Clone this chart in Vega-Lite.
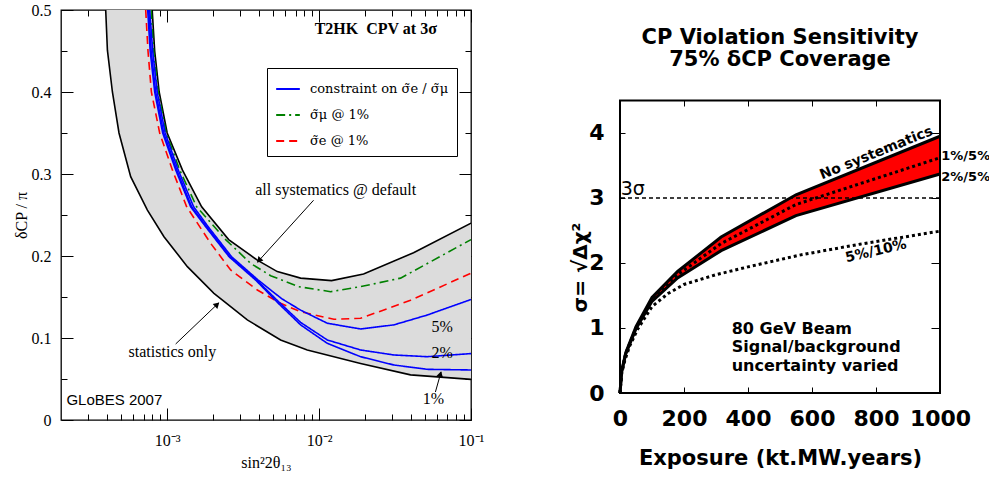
{
  "$schema": "https://vega.github.io/schema/vega-lite/v6.json",
  "background": "white",
  "padding": {"left": 12, "top": 1, "right": 0, "bottom": 0},
  "config": {
    "view": {"stroke": "black", "strokeWidth": 1.3},
    "axis": {"grid": false, "domain": false, "tickColor": "black", "labelColor": "black", "titleColor": "black", "tickWidth": 1}
  },
  "datasets": {
    "leftBand": [
      {"x": 0.0003938, "lo": 0.5, "hi": 0.5},
      {"x": 0.0004041, "lo": 0.451, "hi": 0.5},
      {"x": 0.000436, "lo": 0.4, "hi": 0.5},
      {"x": 0.0004818, "lo": 0.35, "hi": 0.5},
      {"x": 0.0005751, "lo": 0.2967, "hi": 0.5},
      {"x": 0.0007409, "lo": 0.256, "hi": 0.5},
      {"x": 0.0007968, "lo": 0.2466, "hi": 0.5},
      {"x": 0.0008274, "lo": 0.2417, "hi": 0.45},
      {"x": 0.0008858, "lo": 0.2329, "hi": 0.4},
      {"x": 0.001, "lo": 0.2185, "hi": 0.35},
      {"x": 0.0012589, "lo": 0.1948, "hi": 0.305},
      {"x": 0.0016867, "lo": 0.1695, "hi": 0.26},
      {"x": 0.0025393, "lo": 0.1402, "hi": 0.22},
      {"x": 0.0039219, "lo": 0.1147, "hi": 0.195},
      {"x": 0.0053088, "lo": 0.1, "hi": 0.181},
      {"x": 0.0075577, "lo": 0.0885, "hi": 0.173},
      {"x": 0.012086, "lo": 0.0779, "hi": 0.17},
      {"x": 0.019625, "lo": 0.0682, "hi": 0.178},
      {"x": 0.041853, "lo": 0.0547, "hi": 0.204},
      {"x": 0.1, "lo": 0.0496, "hi": 0.24}
    ],
    "leftBlack": [
      {"c": "stat", "x": 0.0003938, "y": 0.5},
      {"c": "stat", "x": 0.0004041, "y": 0.451},
      {"c": "stat", "x": 0.000436, "y": 0.4},
      {"c": "stat", "x": 0.0004818, "y": 0.35},
      {"c": "stat", "x": 0.0005751, "y": 0.2967},
      {"c": "stat", "x": 0.0007409, "y": 0.256},
      {"c": "stat", "x": 0.0009527, "y": 0.2235},
      {"c": "stat", "x": 0.0013579, "y": 0.187},
      {"c": "stat", "x": 0.0020324, "y": 0.1545},
      {"c": "stat", "x": 0.0033703, "y": 0.122},
      {"c": "stat", "x": 0.005581, "y": 0.0976},
      {"c": "stat", "x": 0.0083625, "y": 0.0854},
      {"c": "stat", "x": 0.018752, "y": 0.069},
      {"c": "stat", "x": 0.039994, "y": 0.055},
      {"c": "stat", "x": 0.1, "y": 0.0496},
      {"c": "sys", "x": 0.0007968, "y": 0.5},
      {"c": "sys", "x": 0.0008274, "y": 0.45},
      {"c": "sys", "x": 0.0008858, "y": 0.4},
      {"c": "sys", "x": 0.001, "y": 0.35},
      {"c": "sys", "x": 0.0012589, "y": 0.305},
      {"c": "sys", "x": 0.0016867, "y": 0.26},
      {"c": "sys", "x": 0.0025393, "y": 0.22},
      {"c": "sys", "x": 0.0039219, "y": 0.195},
      {"c": "sys", "x": 0.0053088, "y": 0.181},
      {"c": "sys", "x": 0.0075577, "y": 0.173},
      {"c": "sys", "x": 0.012086, "y": 0.17},
      {"c": "sys", "x": 0.019625, "y": 0.178},
      {"c": "sys", "x": 0.041853, "y": 0.204},
      {"c": "sys", "x": 0.1, "y": 0.24}
    ],
    "leftCurves": [
      {"s": "\u03c3\u0303\u03bc @ 1%", "c": "g", "x": 0.0007847, "y": 0.5},
      {"s": "\u03c3\u0303\u03bc @ 1%", "c": "g", "x": 0.0008152, "y": 0.45},
      {"s": "\u03c3\u0303\u03bc @ 1%", "c": "g", "x": 0.0008725, "y": 0.4},
      {"s": "\u03c3\u0303\u03bc @ 1%", "c": "g", "x": 0.000985, "y": 0.35},
      {"s": "\u03c3\u0303\u03bc @ 1%", "c": "g", "x": 0.0012086, "y": 0.305},
      {"s": "\u03c3\u0303\u03bc @ 1%", "c": "g", "x": 0.0015633, "y": 0.26},
      {"s": "\u03c3\u0303\u03bc @ 1%", "c": "g", "x": 0.0024265, "y": 0.22},
      {"s": "\u03c3\u0303\u03bc @ 1%", "c": "g", "x": 0.003543, "y": 0.191},
      {"s": "\u03c3\u0303\u03bc @ 1%", "c": "g", "x": 0.004797, "y": 0.176},
      {"s": "\u03c3\u0303\u03bc @ 1%", "c": "g", "x": 0.0073322, "y": 0.1626},
      {"s": "\u03c3\u0303\u03bc @ 1%", "c": "g", "x": 0.011904, "y": 0.1565},
      {"s": "\u03c3\u0303\u03bc @ 1%", "c": "g", "x": 0.018752, "y": 0.1626},
      {"s": "\u03c3\u0303\u03bc @ 1%", "c": "g", "x": 0.034375, "y": 0.173},
      {"s": "\u03c3\u0303\u03bc @ 1%", "c": "g", "x": 0.1, "y": 0.22},
      {"s": "\u03c3\u0303e @ 1%", "c": "r", "x": 0.0007222, "y": 0.5},
      {"s": "\u03c3\u0303e @ 1%", "c": "r", "x": 0.0007477, "y": 0.45},
      {"s": "\u03c3\u0303e @ 1%", "c": "r", "x": 0.0007871, "y": 0.4},
      {"s": "\u03c3\u0303e @ 1%", "c": "r", "x": 0.0008926, "y": 0.35},
      {"s": "\u03c3\u0303e @ 1%", "c": "r", "x": 0.0010819, "y": 0.305},
      {"s": "\u03c3\u0303e @ 1%", "c": "r", "x": 0.0013436, "y": 0.26},
      {"s": "\u03c3\u0303e @ 1%", "c": "r", "x": 0.0019324, "y": 0.2155},
      {"s": "\u03c3\u0303e @ 1%", "c": "r", "x": 0.0026174, "y": 0.183},
      {"s": "\u03c3\u0303e @ 1%", "c": "r", "x": 0.0039219, "y": 0.1585},
      {"s": "\u03c3\u0303e @ 1%", "c": "r", "x": 0.005581, "y": 0.1423},
      {"s": "\u03c3\u0303e @ 1%", "c": "r", "x": 0.0075577, "y": 0.132},
      {"s": "\u03c3\u0303e @ 1%", "c": "r", "x": 0.012515, "y": 0.1228},
      {"s": "\u03c3\u0303e @ 1%", "c": "r", "x": 0.018752, "y": 0.124},
      {"s": "\u03c3\u0303e @ 1%", "c": "r", "x": 0.039994, "y": 0.146},
      {"s": "\u03c3\u0303e @ 1%", "c": "r", "x": 0.1, "y": 0.179},
      {"s": "constraint on \u03c3\u0303e / \u03c3\u0303\u03bc", "c": "b1", "x": 0.0007443, "y": 0.5},
      {"s": "constraint on \u03c3\u0303e / \u03c3\u0303\u03bc", "c": "b1", "x": 0.0007729, "y": 0.45},
      {"s": "constraint on \u03c3\u0303e / \u03c3\u0303\u03bc", "c": "b1", "x": 0.0008274, "y": 0.4},
      {"s": "constraint on \u03c3\u0303e / \u03c3\u0303\u03bc", "c": "b1", "x": 0.0009341, "y": 0.35},
      {"s": "constraint on \u03c3\u0303e / \u03c3\u0303\u03bc", "c": "b1", "x": 0.0011374, "y": 0.305},
      {"s": "constraint on \u03c3\u0303e / \u03c3\u0303\u03bc", "c": "b1", "x": 0.0014274, "y": 0.26},
      {"s": "constraint on \u03c3\u0303e / \u03c3\u0303\u03bc", "c": "b1", "x": 0.001792, "y": 0.2357},
      {"s": "constraint on \u03c3\u0303e / \u03c3\u0303\u03bc", "c": "b1", "x": 0.0025586, "y": 0.199},
      {"s": "constraint on \u03c3\u0303e / \u03c3\u0303\u03bc", "c": "b1", "x": 0.0038222, "y": 0.1707},
      {"s": "constraint on \u03c3\u0303e / \u03c3\u0303\u03bc", "c": "b1", "x": 0.0054144, "y": 0.142},
      {"s": "constraint on \u03c3\u0303e / \u03c3\u0303\u03bc", "c": "b1", "x": 0.0075577, "y": 0.116},
      {"s": "constraint on \u03c3\u0303e / \u03c3\u0303\u03bc", "c": "b1", "x": 0.011324, "y": 0.0935},
      {"s": "constraint on \u03c3\u0303e / \u03c3\u0303\u03bc", "c": "b1", "x": 0.018752, "y": 0.0772},
      {"s": "constraint on \u03c3\u0303e / \u03c3\u0303\u03bc", "c": "b1", "x": 0.031055, "y": 0.0671},
      {"s": "constraint on \u03c3\u0303e / \u03c3\u0303\u03bc", "c": "b1", "x": 0.051502, "y": 0.0618},
      {"s": "constraint on \u03c3\u0303e / \u03c3\u0303\u03bc", "c": "b1", "x": 0.1, "y": 0.061},
      {"s": "constraint on \u03c3\u0303e / \u03c3\u0303\u03bc", "c": "b2", "x": 0.0007557, "y": 0.5},
      {"s": "constraint on \u03c3\u0303e / \u03c3\u0303\u03bc", "c": "b2", "x": 0.0007847, "y": 0.45},
      {"s": "constraint on \u03c3\u0303e / \u03c3\u0303\u03bc", "c": "b2", "x": 0.0008401, "y": 0.4},
      {"s": "constraint on \u03c3\u0303e / \u03c3\u0303\u03bc", "c": "b2", "x": 0.0009484, "y": 0.35},
      {"s": "constraint on \u03c3\u0303e / \u03c3\u0303\u03bc", "c": "b2", "x": 0.0011548, "y": 0.305},
      {"s": "constraint on \u03c3\u0303e / \u03c3\u0303\u03bc", "c": "b2", "x": 0.0014492, "y": 0.26},
      {"s": "constraint on \u03c3\u0303e / \u03c3\u0303\u03bc", "c": "b2", "x": 0.0018194, "y": 0.2357},
      {"s": "constraint on \u03c3\u0303e / \u03c3\u0303\u03bc", "c": "b2", "x": 0.0025977, "y": 0.199},
      {"s": "constraint on \u03c3\u0303e / \u03c3\u0303\u03bc", "c": "b2", "x": 0.0038806, "y": 0.1707},
      {"s": "constraint on \u03c3\u0303e / \u03c3\u0303\u03bc", "c": "b2", "x": 0.0054971, "y": 0.143},
      {"s": "constraint on \u03c3\u0303e / \u03c3\u0303\u03bc", "c": "b2", "x": 0.0075577, "y": 0.119},
      {"s": "constraint on \u03c3\u0303e / \u03c3\u0303\u03bc", "c": "b2", "x": 0.011324, "y": 0.0976},
      {"s": "constraint on \u03c3\u0303e / \u03c3\u0303\u03bc", "c": "b2", "x": 0.018752, "y": 0.0854},
      {"s": "constraint on \u03c3\u0303e / \u03c3\u0303\u03bc", "c": "b2", "x": 0.031055, "y": 0.0793},
      {"s": "constraint on \u03c3\u0303e / \u03c3\u0303\u03bc", "c": "b2", "x": 0.051502, "y": 0.0772},
      {"s": "constraint on \u03c3\u0303e / \u03c3\u0303\u03bc", "c": "b2", "x": 0.1, "y": 0.081},
      {"s": "constraint on \u03c3\u0303e / \u03c3\u0303\u03bc", "c": "b5", "x": 0.0007671, "y": 0.5},
      {"s": "constraint on \u03c3\u0303e / \u03c3\u0303\u03bc", "c": "b5", "x": 0.0008029, "y": 0.45},
      {"s": "constraint on \u03c3\u0303e / \u03c3\u0303\u03bc", "c": "b5", "x": 0.0008594, "y": 0.4},
      {"s": "constraint on \u03c3\u0303e / \u03c3\u0303\u03bc", "c": "b5", "x": 0.0009701, "y": 0.35},
      {"s": "constraint on \u03c3\u0303e / \u03c3\u0303\u03bc", "c": "b5", "x": 0.0011814, "y": 0.305},
      {"s": "constraint on \u03c3\u0303e / \u03c3\u0303\u03bc", "c": "b5", "x": 0.0014939, "y": 0.26},
      {"s": "constraint on \u03c3\u0303e / \u03c3\u0303\u03bc", "c": "b5", "x": 0.0018612, "y": 0.2357},
      {"s": "constraint on \u03c3\u0303e / \u03c3\u0303\u03bc", "c": "b5", "x": 0.0026575, "y": 0.199},
      {"s": "constraint on \u03c3\u0303e / \u03c3\u0303\u03bc", "c": "b5", "x": 0.0039697, "y": 0.1707},
      {"s": "constraint on \u03c3\u0303e / \u03c3\u0303\u03bc", "c": "b5", "x": 0.0056662, "y": 0.148},
      {"s": "constraint on \u03c3\u0303e / \u03c3\u0303\u03bc", "c": "b5", "x": 0.0075577, "y": 0.134},
      {"s": "constraint on \u03c3\u0303e / \u03c3\u0303\u03bc", "c": "b5", "x": 0.011324, "y": 0.118},
      {"s": "constraint on \u03c3\u0303e / \u03c3\u0303\u03bc", "c": "b5", "x": 0.018752, "y": 0.111},
      {"s": "constraint on \u03c3\u0303e / \u03c3\u0303\u03bc", "c": "b5", "x": 0.031055, "y": 0.116},
      {"s": "constraint on \u03c3\u0303e / \u03c3\u0303\u03bc", "c": "b5", "x": 0.051502, "y": 0.128},
      {"s": "constraint on \u03c3\u0303e / \u03c3\u0303\u03bc", "c": "b5", "x": 0.1, "y": 0.147}
    ],
    "leftTexts": [
      {"t": "all systematics @ default", "x": 0.01285, "y": 0.2805},
      {"t": "statistics only", "x": 0.001082, "y": 0.0829},
      {"t": "5%", "x": 0.0647, "y": 0.1134},
      {"t": "2%", "x": 0.0647, "y": 0.0817},
      {"t": "1%", "x": 0.0566, "y": 0.0256}
    ],
    "leftArrows": [
      {"x": 0.0092, "y": 0.268, "x2": 0.00394, "y2": 0.1927},
      {"x": 0.001137, "y": 0.0927, "x2": 0.00218, "y2": 0.1427},
      {"x": 0.0583, "y": 0.0341, "x2": 0.0635, "y2": 0.0585}
    ],
    "leftHeads": [
      {"x": 0.00406, "y": 0.1954, "a": 222},
      {"x": 0.00211, "y": 0.1401, "a": 46},
      {"x": 0.0627, "y": 0.055, "a": 15}
    ],
    "rightBand": [
      {"x": 0, "lo": 0, "hi": 0},
      {"x": 5, "lo": 0.32, "hi": 0.33},
      {"x": 18, "lo": 0.6, "hi": 0.62},
      {"x": 50, "lo": 0.99, "hi": 1.02},
      {"x": 100, "lo": 1.41, "hi": 1.47},
      {"x": 180, "lo": 1.77, "hi": 1.87},
      {"x": 316, "lo": 2.19, "hi": 2.4},
      {"x": 550, "lo": 2.73, "hi": 3.05},
      {"x": 1000, "lo": 3.37, "hi": 3.95}
    ],
    "rightLines": [
      {"c": "nosys", "x": 0, "y": 0}, {"c": "nosys", "x": 5, "y": 0.33}, {"c": "nosys", "x": 18, "y": 0.62}, {"c": "nosys", "x": 50, "y": 1.02}, {"c": "nosys", "x": 100, "y": 1.47}, {"c": "nosys", "x": 180, "y": 1.87}, {"c": "nosys", "x": 316, "y": 2.4}, {"c": "nosys", "x": 550, "y": 3.05}, {"c": "nosys", "x": 1000, "y": 3.95},
      {"c": "low", "x": 0, "y": 0}, {"c": "low", "x": 5, "y": 0.32}, {"c": "low", "x": 18, "y": 0.6}, {"c": "low", "x": 50, "y": 0.99}, {"c": "low", "x": 100, "y": 1.41}, {"c": "low", "x": 180, "y": 1.77}, {"c": "low", "x": 316, "y": 2.19}, {"c": "low", "x": 550, "y": 2.73}, {"c": "low", "x": 1000, "y": 3.37},
      {"c": "mid", "x": 0, "y": 0}, {"c": "mid", "x": 5, "y": 0.325}, {"c": "mid", "x": 18, "y": 0.61}, {"c": "mid", "x": 50, "y": 1.0}, {"c": "mid", "x": 100, "y": 1.44}, {"c": "mid", "x": 180, "y": 1.82}, {"c": "mid", "x": 316, "y": 2.3}, {"c": "mid", "x": 550, "y": 2.9}, {"c": "mid", "x": 1000, "y": 3.62},
      {"c": "p510", "x": 0, "y": 0}, {"c": "p510", "x": 5, "y": 0.29}, {"c": "p510", "x": 15, "y": 0.5}, {"c": "p510", "x": 30, "y": 0.72}, {"c": "p510", "x": 55, "y": 0.98}, {"c": "p510", "x": 100, "y": 1.33}, {"c": "p510", "x": 150, "y": 1.53}, {"c": "p510", "x": 200, "y": 1.67}, {"c": "p510", "x": 300, "y": 1.82}, {"c": "p510", "x": 400, "y": 1.94}, {"c": "p510", "x": 560, "y": 2.12}, {"c": "p510", "x": 750, "y": 2.29}, {"c": "p510", "x": 1000, "y": 2.49}
    ]
  },
  "resolve": {"scale": {"color": "independent", "strokeDash": "independent"}},
  "spacing": 85,
  "hconcat": [
    {
      "width": 410,
      "height": 410,
      "view": {"stroke": "black", "strokeWidth": 1.3},
      "resolve": {"axis": {"x": "independent", "y": "independent"}},
      "layer": [
        {
          "data": {"name": "leftBand"},
          "mark": {"type": "area", "color": "#dcdcdc", "clip": true},
          "encoding": {
            "x": {"field": "x", "type": "quantitative", "scale": {"type": "log", "domain": [0.0002, 0.1], "nice": false},
              "axis": {"orient": "bottom", "values": [0.0003, 0.0004, 0.0005, 0.0006, 0.0007, 0.0008, 0.0009, 0.001, 0.002, 0.003, 0.004, 0.005, 0.006, 0.007, 0.008, 0.009, 0.01, 0.02, 0.03, 0.04, 0.05, 0.06, 0.07, 0.08, 0.09, 0.1],
                "labelExpr": "datum.value == 0.001 ? '10\u207b\u00b3' : datum.value == 0.01 ? '10\u207b\u00b2' : datum.value == 0.1 ? '10\u207b\u00b9' : ''",
                "tickSize": {"condition": {"test": "datum.value == 0.001 || datum.value == 0.01 || datum.value == 0.1", "value": -12}, "value": -6},
                "labelFont": "Liberation Serif", "labelFontSize": 16, "labelPadding": 24, "labelOverlap": false, "labelBound": false, "labelFlush": false,
                "title": "sin\u00b22\u03b8\u2081\u2083", "titleFont": "Liberation Serif", "titleFontSize": 16, "titleFontWeight": "normal", "titleX": 205, "titleY": 42, "titleBaseline": "middle", "titleAlign": "center"}},
            "y": {"field": "hi", "type": "quantitative", "scale": {"domain": [0, 0.5], "nice": false},
              "axis": {"orient": "left", "values": [0, 0.05, 0.1, 0.15, 0.2, 0.25, 0.3, 0.35, 0.4, 0.45, 0.5],
                "labelExpr": "datum.value == 0 ? '0' : (abs(datum.value*10 - round(datum.value*10)) < 0.001 ? format(datum.value, '.1f') : '')",
                "tickSize": {"condition": {"test": "abs(datum.value*10 - round(datum.value*10)) < 0.001", "value": -12}, "value": -6},
                "labelFont": "Liberation Serif", "labelFontSize": 16, "labelPadding": 22, "labelOverlap": false, "labelBound": false,
                "title": "\u03b4CP / \u03c0", "titleFont": "Liberation Serif", "titleFontSize": 16, "titleFontWeight": "normal", "titleX": -40, "titleY": 205, "titleAngle": -90, "titleBaseline": "middle", "titleAlign": "center"}},
            "y2": {"field": "lo"}
          }
        },
        {
          "data": {"name": "leftBlack"},
          "mark": {"type": "line", "color": "black", "strokeWidth": 1.6, "clip": true},
          "encoding": {
            "x": {"field": "x", "type": "quantitative",
              "axis": {"orient": "top", "values": [0.0003, 0.0004, 0.0005, 0.0006, 0.0007, 0.0008, 0.0009, 0.001, 0.002, 0.003, 0.004, 0.005, 0.006, 0.007, 0.008, 0.009, 0.01, 0.02, 0.03, 0.04, 0.05, 0.06, 0.07, 0.08, 0.09, 0.1],
                "labels": false, "title": null,
                "tickSize": {"condition": {"test": "datum.value == 0.001 || datum.value == 0.01 || datum.value == 0.1", "value": -12}, "value": -6}}},
            "y": {"field": "y", "type": "quantitative",
              "axis": {"orient": "right", "values": [0, 0.05, 0.1, 0.15, 0.2, 0.25, 0.3, 0.35, 0.4, 0.45, 0.5],
                "labels": false, "title": null,
                "tickSize": {"condition": {"test": "abs(datum.value*10 - round(datum.value*10)) < 0.001", "value": -12}, "value": -6}}},
            "detail": {"field": "c", "type": "nominal"}
          }
        },
        {
          "data": {"name": "leftCurves"},
          "mark": {"type": "line", "strokeWidth": 1.6, "clip": true},
          "encoding": {
            "x": {"field": "x", "type": "quantitative", "axis": null},
            "y": {"field": "y", "type": "quantitative", "axis": null},
            "detail": {"field": "c", "type": "nominal"},
            "color": {"field": "s", "type": "nominal",
              "scale": {"domain": ["constraint on \u03c3\u0303e / \u03c3\u0303\u03bc", "\u03c3\u0303\u03bc @ 1%", "\u03c3\u0303e @ 1%"], "range": ["#0000ff", "#008000", "#ff0000"]},
              "legend": {"orient": "none", "legendX": 206, "legendY": 58, "title": null, "symbolType": "stroke", "symbolSize": 560, "symbolStrokeWidth": 2, "labelFont": "DejaVu Serif", "labelFontSize": 13, "labelColor": "black", "labelLimit": 0, "padding": 8, "rowPadding": 6, "labelOffset": 9, "strokeColor": "black", "fillColor": "white"}},
            "strokeDash": {"field": "s", "type": "nominal",
              "scale": {"domain": ["constraint on \u03c3\u0303e / \u03c3\u0303\u03bc", "\u03c3\u0303\u03bc @ 1%", "\u03c3\u0303e @ 1%"], "range": [[1, 0], [9, 4, 2, 4], [8, 5]]},
              "legend": {"orient": "none", "legendX": 206, "legendY": 58, "title": null, "symbolType": "stroke", "symbolSize": 560, "symbolStrokeWidth": 2, "labelFont": "DejaVu Serif", "labelFontSize": 13, "labelColor": "black", "labelLimit": 0, "padding": 8, "rowPadding": 6, "labelOffset": 9, "strokeColor": "black", "fillColor": "white"}}
          }
        },
        {
          "data": {"name": "leftArrows"},
          "mark": {"type": "rule", "color": "black", "strokeWidth": 1},
          "encoding": {
            "x": {"field": "x", "type": "quantitative", "axis": null},
            "y": {"field": "y", "type": "quantitative", "axis": null},
            "x2": {"field": "x2"},
            "y2": {"field": "y2"}
          }
        },
        {
          "data": {"name": "leftHeads"},
          "mark": {"type": "point", "shape": "triangle", "filled": true, "color": "black", "size": 45, "opacity": 1},
          "encoding": {
            "x": {"field": "x", "type": "quantitative", "axis": null},
            "y": {"field": "y", "type": "quantitative", "axis": null},
            "angle": {"field": "a", "type": "quantitative", "scale": null}
          }
        },
        {
          "data": {"name": "leftTexts"},
          "mark": {"type": "text", "font": "Liberation Serif", "fontSize": 16, "color": "black", "align": "center", "baseline": "middle"},
          "encoding": {
            "x": {"field": "x", "type": "quantitative", "axis": null},
            "y": {"field": "y", "type": "quantitative", "axis": null},
            "text": {"field": "t"}
          }
        },
        {
          "data": {"values": [{"t": "T2HK\u00a0\u00a0CPV at 3\u03c3", "x": 0.0596, "y": 0.477}]},
          "mark": {"type": "text", "font": "Liberation Serif", "fontSize": 16, "fontWeight": "bold", "color": "black", "align": "right", "baseline": "middle"},
          "encoding": {
            "x": {"field": "x", "type": "quantitative", "axis": null},
            "y": {"field": "y", "type": "quantitative", "axis": null},
            "text": {"field": "t"}
          }
        },
        {
          "data": {"values": [{"t": "GLoBES 2007", "x": 0.000217, "y": 0.0244}]},
          "mark": {"type": "text", "font": "Liberation Sans", "fontSize": 15, "color": "black", "align": "left", "baseline": "middle"},
          "encoding": {
            "x": {"field": "x", "type": "quantitative", "axis": null},
            "y": {"field": "y", "type": "quantitative", "axis": null},
            "text": {"field": "t"}
          }
        }
      ]
    },
    {
      "width": 320,
      "height": 383,
      "view": {"stroke": null},
      "resolve": {"axis": {"x": "independent", "y": "independent"}},
      "layer": [
        {
          "data": {"name": "rightBand"},
          "mark": {"type": "area", "color": "#ff0000"},
          "encoding": {
            "x": {"field": "x", "type": "quantitative", "scale": {"domain": [0, 1000], "nice": false},
              "axis": {"orient": "bottom", "values": [0, 200, 400, 600, 800, 1000], "format": "d", "tickSize": -6, "labelFont": "DejaVu Sans", "labelFontWeight": "bold", "labelFontSize": 22, "labelPadding": 21, "labelBound": false, "labelFlush": false, "labelOverlap": false,
                "title": "Exposure (kt.MW.years)", "titleFont": "DejaVu Sans", "titleFontWeight": "bold", "titleFontSize": 21, "titlePadding": 18}},
            "y": {"field": "hi", "type": "quantitative", "scale": {"domain": [0, 5.8923], "nice": false},
              "axis": {"orient": "left", "values": [0, 1, 2, 3, 4], "tickSize": -5, "labelFont": "DejaVu Sans", "labelFontWeight": "bold", "labelFontSize": 22, "labelPadding": 21, "labelBound": false,
                "title": "\u03c3= \u221a\u0394\u03c7\u00b2", "titleFont": "DejaVu Sans", "titleFontWeight": "bold", "titleFontSize": 20, "titleX": -30, "titleY": 257}},
            "y2": {"field": "lo"}
          }
        },
        {
          "data": {"name": "rightLines"},
          "transform": [{"filter": "datum.c == 'nosys' || datum.c == 'low'"}],
          "mark": {"type": "line", "color": "black", "strokeWidth": 3},
          "encoding": {
            "x": {"field": "x", "type": "quantitative",
              "axis": {"orient": "top", "offset": -90, "values": [200, 400, 600, 800], "tickSize": -6, "labels": false, "title": null}},
            "y": {"field": "y", "type": "quantitative",
              "axis": {"orient": "right", "values": [1, 2, 3, 4], "tickSize": -9, "labels": false, "title": null}},
            "detail": {"field": "c", "type": "nominal"}
          }
        },
        {
          "data": {"name": "rightLines"},
          "transform": [{"filter": "datum.c == 'mid' || datum.c == 'p510'"}],
          "mark": {"type": "line", "color": "black", "strokeWidth": 3, "strokeDash": [3, 3]},
          "encoding": {
            "x": {"field": "x", "type": "quantitative", "axis": null},
            "y": {"field": "y", "type": "quantitative", "axis": null},
            "detail": {"field": "c", "type": "nominal"}
          }
        },
        {
          "data": {"values": [{"y": 3}]},
          "mark": {"type": "rule", "color": "black", "strokeWidth": 1.3, "strokeDash": [4, 3]},
          "encoding": {
            "y": {"field": "y", "type": "quantitative", "axis": null}
          }
        },
        {
          "data": {"values": [{"x": 0, "x2": 1000, "y": 0, "y2": 4.5}]},
          "mark": {"type": "rect", "fill": null, "fillOpacity": 0, "stroke": "black", "strokeWidth": 2},
          "encoding": {
            "x": {"field": "x", "type": "quantitative", "axis": null},
            "x2": {"field": "x2"},
            "y": {"field": "y", "type": "quantitative", "axis": null},
            "y2": {"field": "y2"}
          }
        },
        {
          "data": {"values": [
            {"t": "CP Violation Sensitivity", "x": 500, "y": 5.46},
            {"t": "75% \u03b4CP Coverage", "x": 500, "y": 5.12}
          ]},
          "mark": {"type": "text", "font": "DejaVu Sans", "fontSize": 21, "fontWeight": "bold", "color": "black", "align": "center", "baseline": "middle"},
          "encoding": {
            "x": {"field": "x", "type": "quantitative", "axis": null},
            "y": {"field": "y", "type": "quantitative", "axis": null},
            "text": {"field": "t"}
          }
        },
        {
          "data": {"values": [{"t": "3\u03c3", "x": 2, "y": 3.14}]},
          "mark": {"type": "text", "font": "DejaVu Sans", "fontSize": 19, "color": "black", "align": "left", "baseline": "middle"},
          "encoding": {
            "x": {"field": "x", "type": "quantitative", "axis": null},
            "y": {"field": "y", "type": "quantitative", "axis": null},
            "text": {"field": "t"}
          }
        },
        {
          "data": {"values": [
            {"t": "1%/5%", "x": 1004, "y": 3.64},
            {"t": "2%/5%", "x": 1004, "y": 3.32}
          ]},
          "mark": {"type": "text", "font": "DejaVu Sans", "fontSize": 13, "fontWeight": "bold", "color": "black", "align": "left", "baseline": "middle"},
          "encoding": {
            "x": {"field": "x", "type": "quantitative", "axis": null},
            "y": {"field": "y", "type": "quantitative", "axis": null},
            "text": {"field": "t"}
          }
        },
        {
          "data": {"values": [{"t": "No systematics", "x": 801, "y": 3.69}]},
          "mark": {"type": "text", "font": "DejaVu Sans", "fontSize": 14, "fontWeight": "bold", "color": "black", "align": "center", "baseline": "middle", "angle": 338},
          "encoding": {
            "x": {"field": "x", "type": "quantitative", "axis": null},
            "y": {"field": "y", "type": "quantitative", "axis": null},
            "text": {"field": "t"}
          }
        },
        {
          "data": {"values": [{"t": "5%/10%", "x": 800, "y": 2.18}]},
          "mark": {"type": "text", "font": "DejaVu Sans", "fontSize": 14, "fontWeight": "bold", "color": "black", "align": "center", "baseline": "middle", "angle": 347},
          "encoding": {
            "x": {"field": "x", "type": "quantitative", "axis": null},
            "y": {"field": "y", "type": "quantitative", "axis": null},
            "text": {"field": "t"}
          }
        },
        {
          "data": {"values": [
            {"t": "80 GeV Beam", "x": 349, "y": 0.985},
            {"t": "Signal/background", "x": 349, "y": 0.7},
            {"t": "uncertainty varied", "x": 349, "y": 0.41}
          ]},
          "mark": {"type": "text", "font": "DejaVu Sans", "fontSize": 16, "fontWeight": "bold", "color": "black", "align": "left", "baseline": "middle"},
          "encoding": {
            "x": {"field": "x", "type": "quantitative", "axis": null},
            "y": {"field": "y", "type": "quantitative", "axis": null},
            "text": {"field": "t"}
          }
        }
      ]
    }
  ]
}
